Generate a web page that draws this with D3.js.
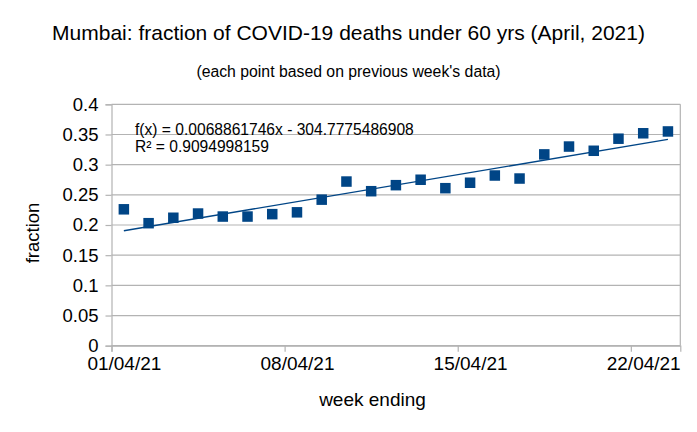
<!DOCTYPE html>
<html>
<head>
<meta charset="utf-8">
<script src="https://cdn.jsdelivr.net/npm/d3@7"></script>
<style>
  body { margin: 0; background: #fff; }
  svg { display: block; font-family: "Liberation Sans", Arial, sans-serif; }
</style>
</head>
<body>
<svg id="chart" width="697" height="432"></svg>
<script>
// ---- data ----
const dates = ["2021-04-01","2021-04-02","2021-04-03","2021-04-04","2021-04-05","2021-04-06",
  "2021-04-07","2021-04-08","2021-04-09","2021-04-10","2021-04-11","2021-04-12","2021-04-13",
  "2021-04-14","2021-04-15","2021-04-16","2021-04-17","2021-04-18","2021-04-19","2021-04-20",
  "2021-04-21","2021-04-22","2021-04-23"];
const fractions = [0.226, 0.203, 0.212, 0.219, 0.214, 0.214, 0.218, 0.221, 0.242, 0.272, 0.256,
  0.266, 0.275, 0.261, 0.270, 0.282, 0.277, 0.317, 0.330, 0.323, 0.343, 0.352, 0.355];
const trendSlope = 0.0068861746;
const trendIntercept = -304.7775486908;
const yTicks = [0, 0.05, 0.1, 0.15, 0.2, 0.25, 0.3, 0.35, 0.4];
const xTickDates = ["2021-04-01","2021-04-08","2021-04-15","2021-04-22"];
const xTickLabels = ["01/04/21","08/04/21","15/04/21","22/04/21"];
const titleText = "Mumbai: fraction of COVID-19 deaths under 60 yrs (April, 2021)";
const subtitleText = "(each point based on previous week's data)";
const eqText = "f(x) = 0.0068861746x - 304.7775486908";
const r2Text = "R² = 0.9094998159";

// ---- layout ----
const W = 697, H = 432;
const m = { left: 111.5, top: 104.3, right: 697 - 680.3, bottom: 432 - 345.7 };
const color = "#004586";
const grid = "#b3b3b3";
const DAY = 86400000;
const parse = s => { const [y, mo, d] = s.split("-").map(Number); return new Date(Date.UTC(y, mo - 1, d)); };
const serial = dt => (dt - Date.UTC(1899, 11, 30)) / DAY;

const svg = d3.select("#chart");
const x = d3.scaleUtc()
  .domain([parse("2021-04-01"), parse("2021-04-24")])
  .range([m.left, W - m.right]);
const y = d3.scaleLinear().domain([0, 0.4]).range([H - m.bottom, m.top]);

const pts = dates.map((s, i) => ({ d: parse(s), v: fractions[i] }));
const px = d => x(new Date(+d + DAY / 2));

// gridlines
svg.append("g").selectAll("line").data(yTicks).join("line")
  .attr("x1", m.left).attr("x2", W - m.right)
  .attr("y1", d => y(d)).attr("y2", d => y(d))
  .attr("stroke", grid).attr("stroke-width", 1.2);

// y axis
const yAxis = d3.axisLeft(y).tickValues(yTicks).tickSize(6).tickPadding(7)
  .tickFormat(d => d3.format("~g")(+d.toFixed(2)));
const gy = svg.append("g").attr("transform", `translate(${m.left},0)`).call(yAxis);
gy.select(".domain").attr("stroke", grid).attr("stroke-width", 1.2);
gy.selectAll(".tick line").attr("stroke", grid).attr("stroke-width", 1.2);
gy.selectAll(".tick text").attr("font-size", 18.5).attr("fill", "#000")
  .attr("font-family", "'Liberation Sans', Arial, sans-serif");

// x axis
const xAxis = d3.axisBottom(x).tickValues(xTickDates.map(parse)).tickSize(6)
  .tickFormat((d, i) => xTickLabels[i]);
const gx = svg.append("g").attr("transform", `translate(0,${H - m.bottom})`).call(xAxis);
gx.select(".domain").attr("stroke", grid).attr("stroke-width", 1.2);
gx.selectAll(".tick line").attr("stroke", grid).attr("stroke-width", 1.2);
gx.selectAll(".tick text").attr("font-size", 19).attr("fill", "#000")
  .attr("font-family", "'Liberation Sans', Arial, sans-serif")
  .attr("dy", "0").attr("y", 24)
  .attr("x", d => px(d) - x(d));

// right border
svg.append("line").attr("x1", W - m.right).attr("x2", W - m.right)
  .attr("y1", m.top).attr("y2", H - m.bottom)
  .attr("stroke", grid).attr("stroke-width", 1.2);

// trend line
const first = pts[0], last = pts[pts.length - 1];
const f = d => trendSlope * serial(d) + trendIntercept;
svg.append("line")
  .attr("x1", px(first.d)).attr("y1", y(f(first.d)))
  .attr("x2", px(last.d)).attr("y2", y(f(last.d)))
  .attr("stroke", color).attr("stroke-width", 1.4);

// markers
const S = 10.5;
svg.append("g").selectAll("rect").data(pts).join("rect")
  .attr("x", d => px(d.d) - S / 2).attr("y", d => y(d.v) - S / 2)
  .attr("width", S).attr("height", S).attr("fill", color);

// equation
svg.append("text").attr("x", 135).attr("y", 134.5).attr("font-size", 15.6).text(eqText);
svg.append("text").attr("x", 135).attr("y", 152).attr("font-size", 15.6).text(r2Text);

// titles
svg.append("text").attr("x", W / 2).attr("y", 40).attr("text-anchor", "middle")
  .attr("font-size", 21).text(titleText);
svg.append("text").attr("x", W / 2).attr("y", 77).attr("text-anchor", "middle")
  .attr("font-size", 15.8).text(subtitleText);
svg.append("text").attr("x", 372.5).attr("y", 406).attr("text-anchor", "middle")
  .attr("font-size", 19).text("week ending");
svg.append("text").attr("transform", "translate(38.5,233) rotate(-90)")
  .attr("text-anchor", "middle").attr("font-size", 18.5).text("fraction");
</script>
</body>
</html>
